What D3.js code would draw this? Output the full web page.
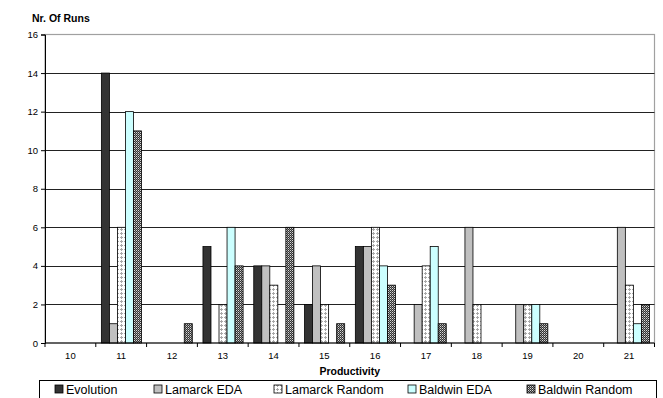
<!DOCTYPE html>
<html><head><meta charset="utf-8">
<script src="https://cdn.jsdelivr.net/npm/d3@7"></script>
<style>body{margin:0;background:#fff}svg{display:block}text{font-family:"Liberation Sans",Arial,sans-serif}</style>
</head><body>
<svg id="c" width="663" height="398"></svg>
<script>
const categories = ["10","11","12","13","14","15","16","17","18","19","20","21"];
const seriesNames = ["Evolution","Lamarck EDA","Lamarck Random","Baldwin EDA","Baldwin Random"];
const evolution     = [0,14,0,5,4,2,5,0,0,0,0,0];
const lamarckEDA    = [0,1,0,0,4,4,5,2,6,2,0,6];
const lamarckRandom = [0,6,0,2,3,2,6,4,2,2,0,3];
const baldwinEDA    = [0,12,0,6,0,0,4,5,0,2,0,1];
const baldwinRandom = [0,11,1,4,6,1,3,1,0,1,0,2];
const yTicks = [0,2,4,6,8,10,12,14,16];

const seriesValues = [evolution, lamarckEDA, lamarckRandom, baldwinEDA, baldwinRandom];
const fills = ["#333333","#c0c0c0","url(#pLR)","#ccffff","url(#pBR)"];

const svg = d3.select("#c");
const defs = svg.append("defs");
const p1 = defs.append("pattern").attr("id","pLR").attr("patternUnits","userSpaceOnUse").attr("width",4).attr("height",4);
p1.append("rect").attr("width",4).attr("height",4).attr("fill","#fff");
p1.append("rect").attr("x",1).attr("y",0).attr("width",1).attr("height",3).attr("fill","#a8a8a8");
p1.append("rect").attr("x",0).attr("y",1).attr("width",3).attr("height",1).attr("fill","#a8a8a8");
const p2 = defs.append("pattern").attr("id","pBR").attr("patternUnits","userSpaceOnUse").attr("width",2).attr("height",2);
p2.append("rect").attr("width",2).attr("height",2).attr("fill","#333");
p2.append("rect").attr("x",0).attr("y",0).attr("width",1).attr("height",1).attr("fill","#d8d8d8");
p2.append("rect").attr("x",1).attr("y",1).attr("width",1).attr("height",1).attr("fill","#888");

const L = 45, R = 654.5, T = 34.5, B = 343;
const x = d3.scaleBand().domain(categories).range([L, R]).padding(0);
const y = d3.scaleLinear().domain([0,16]).range([B, T]);
const bw = x.bandwidth();
const barW = bw * 0.158;
const offset = bw * 0.11;
const xs = d3.scaleBand().domain(seriesNames).range([offset, offset + barW*5]).padding(0);

svg.append("rect").attr("x",L).attr("y",T).attr("width",R-L).attr("height",B-T)
  .attr("fill","none").attr("stroke","#a0a0a0").attr("stroke-width",1.2);

svg.append("g").selectAll("line").data(yTicks.filter(d=>d>0 && d<16)).join("line")
  .attr("x1",L).attr("x2",R).attr("y1",d=>Math.round(y(d))+0.5).attr("y2",d=>Math.round(y(d))+0.5)
  .attr("stroke","#222").attr("stroke-width",1);

seriesNames.forEach((s,si)=>{
  svg.append("g").selectAll("rect").data(categories.map((c,i)=>({c, v: seriesValues[si][i]})).filter(d=>d.v>0)).join("rect")
    .attr("x", d=> x(d.c) + xs(s))
    .attr("y", d=> y(d.v))
    .attr("width", xs.bandwidth())
    .attr("height", d=> B - y(d.v))
    .attr("fill", fills[si])
    .attr("stroke","#000").attr("stroke-width",0.8);
});

const yAxis = d3.axisLeft(y).tickValues(yTicks).tickSize(4).tickPadding(3).tickFormat(d3.format("d"));
const gy = svg.append("g").attr("transform",`translate(${L},0)`).call(yAxis);
gy.select(".domain").attr("stroke","#000");
gy.selectAll(".tick line").attr("stroke","#000");
gy.selectAll("text").attr("font-size","9.5px").attr("fill","#000");

const gx = svg.append("g").attr("transform",`translate(0,${B})`);
gx.append("line").attr("x1",L).attr("x2",R).attr("y1",0).attr("y2",0).attr("stroke","#000");
gx.selectAll("line.t").data(categories.concat(["end"])).join("line").attr("class","t")
  .attr("x1",(d,i)=> L + i*bw).attr("x2",(d,i)=> L + i*bw).attr("y1",0).attr("y2",4).attr("stroke","#000");
gx.selectAll("text").data(categories).join("text")
  .attr("x", d=> x(d) + bw/2).attr("y", 16).attr("text-anchor","middle")
  .attr("font-size","9.5px").attr("fill","#000").text(d=>d);

svg.append("text").attr("x",32).attr("y",22).attr("font-size","10.5px").attr("font-weight","bold").text("Nr. Of Runs");
svg.append("text").attr("x",(L+R)/2).attr("y",375).attr("text-anchor","middle").attr("font-size","10.5px").attr("font-weight","bold").text("Productivity");

const lg = svg.append("g");
lg.append("rect").attr("x",39.5).attr("y",380.5).attr("width",617).attr("height",30).attr("fill","#fff").attr("stroke","#000").attr("stroke-width",1);
const legX = [55, 154, 274, 408, 527];
seriesNames.forEach((s,i)=>{
  lg.append("rect").attr("x",legX[i]).attr("y",385).attr("width",8).attr("height",8)
    .attr("fill",fills[i]).attr("stroke","#000").attr("stroke-width",0.8);
  lg.append("text").attr("x",legX[i]+11).attr("y",394).attr("font-size","12.5px").attr("fill","#000").text(s);
});
</script>
</body></html>
